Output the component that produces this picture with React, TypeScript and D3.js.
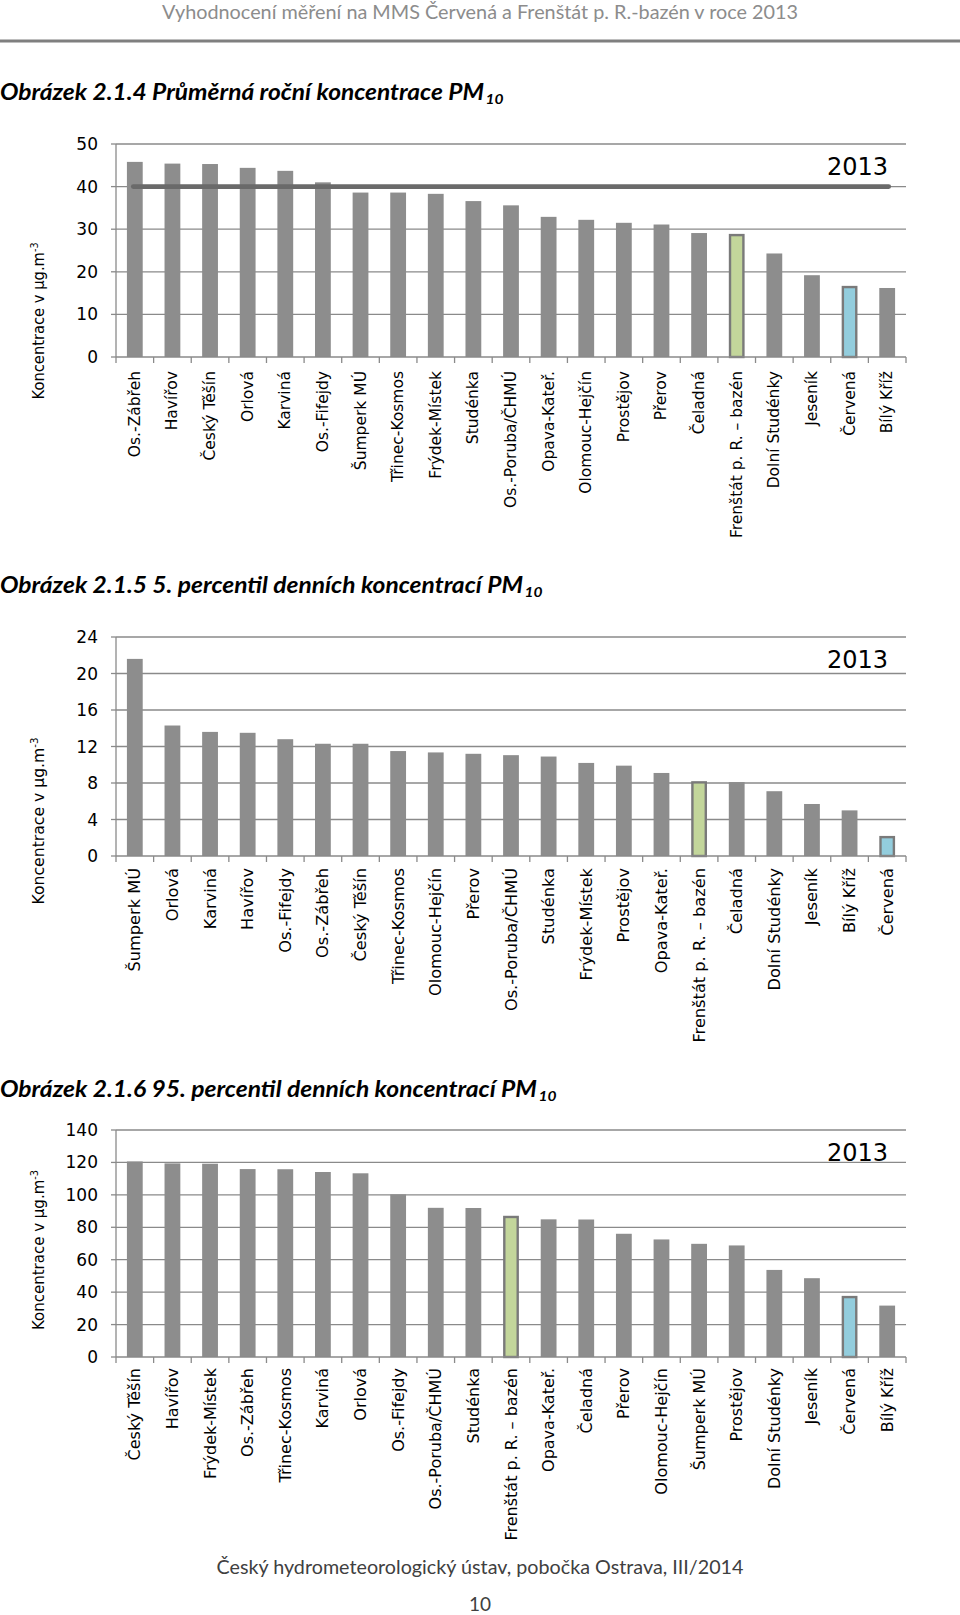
import React from "react";
import * as d3 from "d3";

// ---------- DATA ----------
const avgCategories = [
  "Os.-Zábřeh", "Havířov", "Český Těšín", "Orlová", "Karviná", "Os.-Fifejdy",
  "Šumperk MÚ", "Třinec-Kosmos", "Frýdek-Místek", "Studénka", "Os.-Poruba/ČHMÚ",
  "Opava-Kateř.", "Olomouc-Hejčín", "Prostějov", "Přerov", "Čeladná",
  "Frenštát p. R. – bazén", "Dolní Studénky", "Jeseník", "Červená", "Bílý Kříž",
];
const avgValues = [45.8, 45.4, 45.3, 44.4, 43.7, 41.0, 38.6, 38.6, 38.3, 36.6, 35.6,
  32.9, 32.2, 31.5, 31.1, 29.1, 28.9, 24.3, 19.2, 16.7, 16.2];
const avgTicks = [0, 10, 20, 30, 40, 50];
const avgLimit = 40;

const p5Categories = [
  "Šumperk MÚ", "Orlová", "Karviná", "Havířov", "Os.-Fifejdy", "Os.-Zábřeh",
  "Český Těšín", "Třinec-Kosmos", "Olomouc-Hejčín", "Přerov", "Os.-Poruba/ČHMÚ",
  "Studénka", "Frýdek-Místek", "Prostějov", "Opava-Kateř.", "Frenštát p. R. – bazén",
  "Čeladná", "Dolní Studénky", "Jeseník", "Bílý Kříž", "Červená",
];
const p5Values = [21.6, 14.3, 13.6, 13.5, 12.8, 12.3, 12.3, 11.5, 11.35, 11.2, 11.05,
  10.9, 10.2, 9.9, 9.1, 8.2, 8.1, 7.1, 5.7, 5.0, 2.2];
const p5Ticks = [0, 4, 8, 12, 16, 20, 24];

const p95Categories = [
  "Český Těšín", "Havířov", "Frýdek-Místek", "Os.-Zábřeh", "Třinec-Kosmos", "Karviná",
  "Orlová", "Os.-Fifejdy", "Os.-Poruba/ČHMÚ", "Studénka", "Frenštát p. R. – bazén",
  "Opava-Kateř.", "Čeladná", "Přerov", "Olomouc-Hejčín", "Šumperk MÚ", "Prostějov",
  "Dolní Studénky", "Jeseník", "Červená", "Bílý Kříž",
];
const p95Values = [120.6, 119.4, 119.2, 115.9, 115.8, 114.1, 113.3, 100.3, 92.0, 91.9,
  87.1, 84.9, 84.8, 76.0, 72.5, 69.8, 68.8, 53.7, 48.6, 37.7, 31.7];
const p95Ticks = [0, 20, 40, 60, 80, 100, 120, 140];

const yearLabel = "2013";
const greenStation = "Frenštát p. R. – bazén";
const blueStation = "Červená";

// ---------- STYLE ----------
const CHART_FONT = "'DejaVu Sans', sans-serif";
const DOC_FONT = "Lato, 'Open Sans', sans-serif";
const GRID = "#8a8a8a";
const BAR = "#8d8d8d";
const GREEN = "#c3d69b";
const BLUE = "#93cddd";
const EDGE = "#7a7a7a";

type ChartProps = {
  categories: string[];
  values: number[];
  ticks: number[];
  top: number;
  bottom: number;
  limit?: number;
  yTitleCenter: number;
  yTitleSize: number;
  yTitleLength: number;
  labelOffset: number;
  labelSize: number;
};

const LEFT = 116;
const RIGHT = 906;

function BarChart(p: ChartProps) {
  const x = d3.scaleBand<string>().domain(p.categories).range([LEFT, RIGHT]).padding(0);
  const maxT = p.ticks[p.ticks.length - 1];
  const y = d3.scaleLinear().domain([0, maxT]).range([p.bottom, p.top]);
  const bw = x.bandwidth() * 0.42;
  const boundaries = p.categories.map((c) => x(c) as number).concat([RIGHT]);
  const first = p.categories[0];
  const last = p.categories[p.categories.length - 1];
  return (
    <g>
      {p.ticks.map((t) => (
        <g key={"t" + t}>
          {t !== 0 && (
            <line x1={LEFT} x2={RIGHT} y1={y(t)} y2={y(t)} stroke={GRID} strokeWidth={1.3} />
          )}
          <line x1={LEFT - 5} x2={LEFT} y1={y(t)} y2={y(t)} stroke={GRID} strokeWidth={1.3} />
          <text x={98} y={y(t)} textAnchor="end" dominantBaseline="central"
            fontFamily={CHART_FONT} fontSize={17} fill="#000">{t}</text>
        </g>
      ))}
      {p.categories.map((c, i) => {
        const v = p.values[i];
        const cx = (x(c) as number) + x.bandwidth() / 2;
        const special = c === greenStation ? GREEN : c === blueStation ? BLUE : null;
        if (special) {
          return (
            <rect key={c} x={cx - bw / 2 + 1.2} y={y(v) + 1.2} width={bw - 2.4}
              height={y(0) - y(v) - 1.2} fill={special} stroke={EDGE} strokeWidth={2.4} />
          );
        }
        return <rect key={c} x={cx - bw / 2} y={y(v)} width={bw} height={y(0) - y(v)} fill={BAR} />;
      })}
      {p.limit !== undefined && (
        <line
          x1={(x(first) as number) + x.bandwidth() / 2 - 1.5}
          x2={(x(last) as number) + x.bandwidth() / 2 + 1.5}
          y1={y(p.limit)} y2={y(p.limit)} stroke="#6a6a6a" strokeWidth={4.8} strokeLinecap="round" />
      )}
      <line x1={LEFT} x2={LEFT} y1={p.top} y2={p.bottom} stroke={GRID} strokeWidth={1.3} />
      <line x1={LEFT} x2={RIGHT} y1={p.bottom} y2={p.bottom} stroke={GRID} strokeWidth={1.3} />
      {boundaries.map((b, i) => (
        <line key={"b" + i} x1={b} x2={b} y1={p.bottom} y2={p.bottom + 6} stroke={GRID} strokeWidth={1.3} />
      ))}
      {p.categories.map((c) => {
        const cx = (x(c) as number) + x.bandwidth() / 2;
        return (
          <text key={"l" + c} transform={`translate(${cx},${p.bottom + p.labelOffset}) rotate(-90)`}
            textAnchor="end" dominantBaseline="central" fontFamily={CHART_FONT} fontSize={p.labelSize} fill="#000">
            {c}
          </text>
        );
      })}
      <text x={888} y={p.top + 31} textAnchor="end" fontFamily={CHART_FONT} fontSize={24} fill="#000">
        {yearLabel}
      </text>
      <text transform={`translate(44,${p.yTitleCenter}) rotate(-90)`} textAnchor="middle"
        fontFamily={CHART_FONT} fontSize={p.yTitleSize} fill="#000"
        textLength={p.yTitleLength} lengthAdjust="spacingAndGlyphs">
        Koncentrace v µg.m<tspan dy={-p.yTitleSize * 0.4} fontSize={p.yTitleSize * 0.65}>-3</tspan>
      </text>
    </g>
  );
}

function Title({ text, y, mainLen }: { text: string; y: number; mainLen: number }) {
  return (
    <g>
      <text x={0} y={y} fontFamily={DOC_FONT} fontWeight="bold" fontStyle="italic" fontSize={22}
        fill="#000" textLength={mainLen} lengthAdjust="spacingAndGlyphs">{text}</text>
      <text x={mainLen + 1.5} y={y + 4} fontFamily={DOC_FONT} fontWeight="bold" fontStyle="italic"
        fontSize={13} fill="#000" textLength={18} lengthAdjust="spacingAndGlyphs">10</text>
    </g>
  );
}

export default function App() {
  return (
    <svg width={960} height={1615} style={{ position: "absolute", left: 0, top: 0, background: "#fff" }}>
      <rect x={0} y={0} width={960} height={1615} fill="#fff" />
      <text x={480} y={19} textAnchor="middle" fontFamily={DOC_FONT} fontSize={19} fill="#8c8c8c"
        textLength={636} lengthAdjust="spacingAndGlyphs">
        Vyhodnocení měření na MMS Červená a Frenštát p. R.-bazén v roce 2013
      </text>
      <line x1={0} x2={960} y1={41} y2={41} stroke="#7f7f7f" strokeWidth={3} />

      <Title text="Obrázek 2.1.4 Průměrná roční koncentrace PM" y={100} mainLen={484} />
      <BarChart categories={avgCategories} values={avgValues} ticks={avgTicks} top={144} bottom={357}
        limit={avgLimit} yTitleCenter={321} yTitleSize={15} yTitleLength={157} labelOffset={14}
        labelSize={15.5} />

      <Title text="Obrázek 2.1.5 5. percentil denních koncentrací PM" y={593} mainLen={523} />
      <BarChart categories={p5Categories} values={p5Values} ticks={p5Ticks} top={637} bottom={856}
        yTitleCenter={821} yTitleSize={16} yTitleLength={167} labelOffset={12} labelSize={16.2} />

      <Title text="Obrázek 2.1.6 95. percentil denních koncentrací PM" y={1097} mainLen={537} />
      <BarChart categories={p95Categories} values={p95Values} ticks={p95Ticks} top={1130} bottom={1357}
        yTitleCenter={1250} yTitleSize={15} yTitleLength={160} labelOffset={11} labelSize={16} />

      <text x={480} y={1574} textAnchor="middle" fontFamily={DOC_FONT} fontSize={19} fill="#404040"
        textLength={527} lengthAdjust="spacingAndGlyphs">
        Český hydrometeorologický ústav, pobočka Ostrava, III/2014
      </text>
      <text x={480} y={1611} textAnchor="middle" fontFamily={DOC_FONT} fontSize={19} fill="#404040">10</text>
    </svg>
  );
}
